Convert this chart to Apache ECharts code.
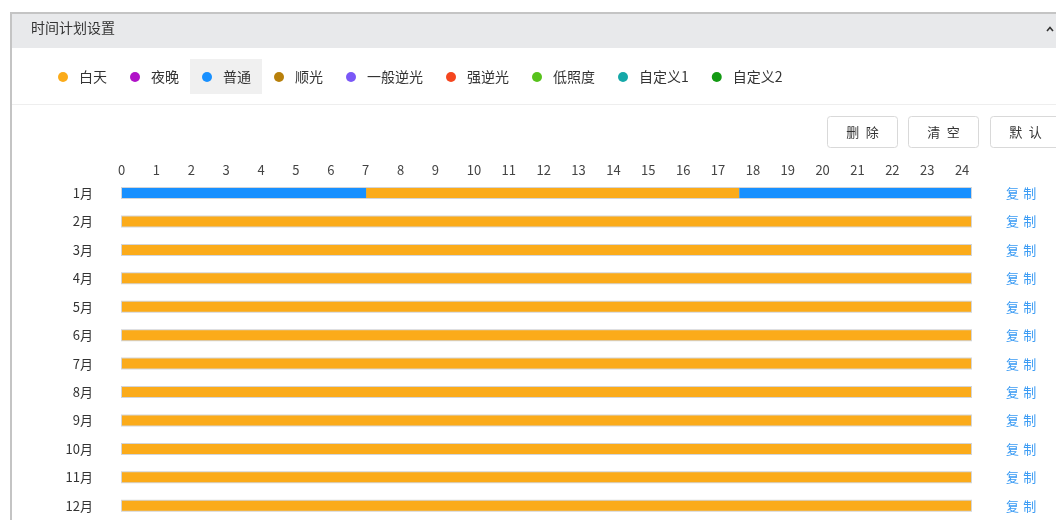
<!DOCTYPE html>
<html><head><meta charset="utf-8">
<script src="https://cdn.jsdelivr.net/npm/echarts@6/dist/echarts.min.js"></script>
<style>html,body{margin:0;padding:0;background:#fff}#c{width:1056px;height:520px}</style>
</head><body><div id="c"></div><script>
// ---- data ----
const months = ['1月','2月','3月','4月','5月','6月','7月','8月','9月','10月','11月','12月'];
const hourLabels = ['0','1','2','3','4','5','6','7','8','9','10','11','12','13','14','15','16','17','18','19','20','21','22','23','24'];
const modes = ['白天','夜晚','普通','顺光','一般逆光','强逆光','低照度','自定义1','自定义2'];
// per month: [start hour, end hour, mode]
const schedule = [
  [[0, 6.9, '普通'], [6.9, 17.45, '白天'], [17.45, 24, '普通']],
  [[0, 24, '白天']],
  [[0, 24, '白天']],
  [[0, 24, '白天']],
  [[0, 24, '白天']],
  [[0, 24, '白天']],
  [[0, 24, '白天']],
  [[0, 24, '白天']],
  [[0, 24, '白天']],
  [[0, 24, '白天']],
  [[0, 24, '白天']],
  [[0, 24, '白天']]
];
const buttonLabels = ['删\u2002除', '清\u2002空', '默\u2002认'];
const panelTitle = '时间计划设置';
const copyLabel = '复\u2004制';

// ---- styles ----
const modeColors = ['#fbab1a','#b012c8','#1890ff','#b8800b','#7a58f7','#f5461f','#57c21c','#15a8a8','#139a13'];
const FONT = '"Noto Sans CJK SC", "Noto Sans", sans-serif';

const chart = echarts.init(document.getElementById('c'), null, {renderer: 'canvas'});

const BAR_H = 10;
function segRender(params, api) {
  const s = api.coord([api.value(0), api.value(2)]);
  const e = api.coord([api.value(1), api.value(2)]);
  return {type: 'rect', shape: {x: s[0], y: s[1] - BAR_H / 2, width: e[0] - s[0], height: BAR_H},
    style: {fill: api.visual('color')}};
}
function trackRender(params, api) {
  const s = api.coord([api.value(0), api.value(2)]);
  const e = api.coord([api.value(1), api.value(2)]);
  return {type: 'rect', shape: {x: s[0] - 1, y: s[1] - BAR_H / 2 - 1, width: e[0] - s[0] + 2, height: BAR_H + 2},
    style: {fill: '#d3d5d8'}};
}

const series = [{
  type: 'custom', name: 'track', silent: true, xAxisIndex: 0, yAxisIndex: 0, z: 1,
  renderItem: trackRender, encode: {x: [0, 1], y: 2},
  data: months.map((m, i) => [0, 24, i])
}].concat(modes.map((m, k) => ({
  type: 'custom', name: m, xAxisIndex: 0, yAxisIndex: 0, z: 2, silent: true,
  itemStyle: {color: modeColors[k]},
  renderItem: segRender, encode: {x: [0, 1], y: 2},
  data: schedule.flatMap((segs, i) => segs.filter(s => s[2] === m).map(s => [s[0], s[1], i]))
})));

const graphics = [
  {type: 'rect', shape: {x: 11, y: 13, width: 1045, height: 35}, style: {fill: '#e8e9eb'}, z: -10},
  {type: 'rect', shape: {x: 10, y: 12, width: 1046, height: 2}, style: {fill: '#c4c4c4'}, z: -9},
  {type: 'rect', shape: {x: 10, y: 12, width: 2, height: 508}, style: {fill: '#c4c4c4'}, z: -9},
  {type: 'text', x: 31, y: 28, style: {text: panelTitle, font: '14px ' + FONT, fill: '#333', verticalAlign: 'middle'}},
  {type: 'polyline', shape: {points: [[1047, 31], [1050, 27.5], [1053, 31]]}, style: {stroke: '#333', lineWidth: 1.6, fill: null}},
  {type: 'rect', shape: {x: 190, y: 59, width: 72, height: 35}, style: {fill: '#f0f0f0'}, z: -10},
  {type: 'rect', shape: {x: 12, y: 104, width: 1044, height: 1}, style: {fill: '#eeeeee'}, z: -10}
];
const btnX = [827, 908, 990];
buttonLabels.forEach((t, i) => {
  graphics.push({type: 'rect', shape: {x: btnX[i] + 0.5, y: 116.5, width: 70, height: 31, r: 3},
    style: {fill: '#fff', stroke: '#d9d9d9', lineWidth: 1}});
  graphics.push({type: 'text', x: btnX[i] + 35.5, y: 132, style: {text: t, font: '13px ' + FONT, fill: '#333', align: 'center', verticalAlign: 'middle'}});
});

const gridTop = 178.8, rowH = 28.75;
chart.setOption({
  backgroundColor: '#fff',
  animation: false,
  textStyle: {fontFamily: FONT},
  legend: {
    data: modes, left: 58, top: 67, padding: 0, icon: 'circle', itemWidth: 10, itemHeight: 10, itemGap: 23,
    selectedMode: false,
    textStyle: {fontSize: 14, color: '#333', padding: [0, 0, 0, 6], lineHeight: 20, fontFamily: FONT}
  },
  grid: [
    {left: 122, width: 849, top: gridTop, height: rowH * 12},
    {left: 118, width: 34.87 * 24, top: gridTop, height: rowH * 12}
  ],
  xAxis: [
    {type: 'value', gridIndex: 0, min: 0, max: 24, show: false},
    {type: 'value', gridIndex: 1, min: 0, max: 24, interval: 1, position: 'top',
      axisLine: {show: false}, axisTick: {show: false}, splitLine: {show: false},
      axisLabel: {margin: 2, align: 'left', fontSize: 13, color: '#444', fontFamily: FONT,
        formatter: v => hourLabels[v]}}
  ],
  yAxis: [
    {type: 'category', gridIndex: 0, data: months, inverse: true,
      axisLine: {show: false}, axisTick: {show: false}, splitLine: {show: false},
      axisLabel: {margin: 29, fontSize: 13, color: '#333', fontFamily: FONT}},
    {type: 'category', gridIndex: 0, data: months, inverse: true, position: 'right',
      axisLine: {show: false}, axisTick: {show: false}, splitLine: {show: false},
      axisLabel: {margin: 35, fontSize: 13, color: '#3a9bf4', fontFamily: FONT, formatter: () => copyLabel}},
    {type: 'value', gridIndex: 1, show: false}
  ],
  graphic: graphics,
  series: series
});
</script></body></html>
